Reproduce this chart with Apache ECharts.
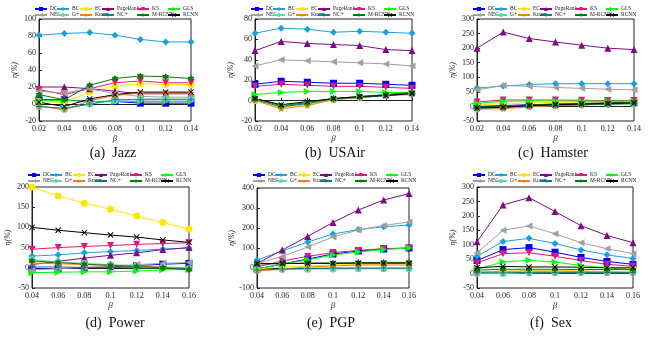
<!DOCTYPE html>
<html>
<head>
<meta charset="utf-8">
<script src="https://cdn.jsdelivr.net/npm/echarts@6/dist/echarts.min.js"></script>
<style>
  html, body { margin: 0; padding: 0; background: #fff; }
  #chart { width: 651px; height: 340px; }
</style>
</head>
<body>
<div id="chart"></div>
<script>
// method names (legend order)
const methods = ['DC', 'BC', 'EC', 'PageRank', 'KS', 'GLS', 'NEC', 'G+', 'Kuam', 'NC+', 'M-RCNN', 'RCNN'];

// beta tick labels
const betaTop = ['0.02', '0.04', '0.06', '0.08', '0.1', '0.12', '0.14'];
const betaBottom = ['0.04', '0.06', '0.08', '0.1', '0.12', '0.14', '0.16'];

// values per method, same order as methods
const jazzValues = [
  [5, 5, 3, 3, 1, 1, 1],
  [81, 83, 84, 81, 76, 73, 73],
  [3, 2, 14, 21, 24, 23, 23],
  [20, 20, 18, 15, 12, 12, 12],
  [17, 11, 18, 25, 27, 25, 25],
  [4, 4, 3, 3, 3, 3, 3],
  [15, 13, 18, 12, 9, 8, 8],
  [-3, -6, 0, 4, 6, 6, 6],
  [-2, -7, 4, 10, 13, 13, 13],
  [-3, -5, 0, 5, 5, 5, 5],
  [11, 5, 22, 30, 33, 32, 30],
  [2, -3, 6, 11, 14, 14, 14]
];
const usairValues = [
  [16, 19, 18, 17, 17, 16, 15],
  [66, 71, 70, 67, 68, 67, 66],
  [0, -7, -4, 1, 3, 5, 7],
  [49, 58, 56, 55, 54, 50, 49],
  [14, 16, 15, 14, 14, 13, 12],
  [6, 8, 9, 9, 9, 8, 8],
  [34, 40, 39, 38, 37, 36, 34],
  [1, -6, -3, 1, 3, 5, 7],
  [0, -8, -5, 1, 3, 5, 7],
  [1, -6, -3, 2, 3, 5, 6],
  [2, -5, -2, 2, 4, 6, 8],
  [2, -4, -1, 2, 4, 5, 7]
];
const hamsterValues = [
  [0, 3, 6, 8, 10, 12, 14],
  [63, 70, 75, 78, 78, 78, 78],
  [5, 10, 12, 14, 15, 16, 18],
  [200, 255, 233, 221, 210, 200, 195],
  [15, 22, 22, 22, 21, 20, 20],
  [10, 18, 19, 19, 18, 18, 18],
  [57, 72, 69, 65, 62, 59, 57],
  [-8, -5, 0, 3, 5, 7, 8],
  [-10, -8, -2, 3, 5, 8, 10],
  [-5, -3, 2, 4, 6, 8, 10],
  [-3, 0, 5, 8, 10, 12, 14],
  [-5, -3, 3, 6, 8, 10, 12]
];
const powerValues = [
  [-3, -2, 0, 3, 5, 9, 11],
  [29, 32, 37, 40, 43, 46, 49],
  [200, 178, 160, 145, 128, 112, 96],
  [8, 16, 24, 31, 37, 45, 50],
  [46, 50, 53, 55, 58, 60, 62],
  [-12, -11, -10, -10, -8, -5, -4],
  [-5, -2, 1, 4, 8, 11, 13],
  [20, 15, 11, 8, 5, 2, -2],
  [12, 10, 8, 6, 4, 2, 0],
  [2, 2, 1, 1, 0, -1, -2],
  [17, 13, 9, 6, 3, 0, -5],
  [100, 93, 87, 81, 76, 69, 63]
];
const pgpValues = [
  [-5, 20, 45, 70, 85, 95, 100],
  [40, 85, 130, 170, 192, 206, 215],
  [-5, 5, 10, 15, 18, 20, 22],
  [22, 90, 158, 228, 290, 340, 372],
  [5, 35, 58, 77, 88, 97, 100],
  [-5, 20, 40, 65, 80, 92, 100],
  [22, 58, 105, 155, 190, 213, 230],
  [-10, -8, -6, -5, -4, -4, -4],
  [-15, -5, 5, 10, 15, 15, 15],
  [-10, -5, -2, 0, 0, 0, 0],
  [20, 22, 25, 25, 27, 28, 28],
  [22, 22, 23, 23, 24, 24, 24]
];
const sexValues = [
  [45, 83, 90, 74, 56, 42, 32],
  [60, 111, 122, 104, 82, 65, 52],
  [5, 8, 10, 10, 12, 14, 20],
  [110, 238, 263, 215, 166, 132, 107],
  [37, 69, 72, 60, 45, 32, 25],
  [15, 40, 46, 40, 28, 20, 12],
  [72, 150, 165, 138, 107, 86, 69],
  [0, 0, 2, 3, 3, 3, 3],
  [5, 8, 8, 8, 7, 6, 5],
  [3, 3, 4, 4, 4, 4, 4],
  [12, 15, 15, 15, 14, 14, 14],
  [20, 25, 23, 23, 22, 20, 20]
];

const colors = ['#0000FF', '#1BA1E2', '#FFE600', '#7E0B80', '#E6177A', '#00FF00',
  '#A0A0A0', '#66D4B0', '#FF7F0E', '#0E7C7B', '#0B7A0B', '#000000'];

const star5 = 'path://M50,0L61.8,35.1H97.6L68.5,56.7L79.4,91.9L50,70.3L20.6,91.9L31.5,56.7L2.4,35.1H38.2Z';
const star6 = 'path://M50,0L64.4,25H93.3L78.9,50L93.3,75H64.4L50,100L35.6,75H6.7L21.1,50L6.7,25H35.6Z';
const plus = 'path://M42,0H58V42H100V58H58V100H42V58H0V42H42Z';
const cross = 'path://M12,0L50,38L88,0L100,12L62,50L100,88L88,100L50,62L12,100L0,88L38,50L0,12Z';
const symbols = ['rect', 'diamond', 'circle', 'triangle', 'triangle', 'triangle',
  'triangle', 'circle', star5, plus, star6, cross];
const rotates = [0, 0, 0, 0, 180, -90, 90, 0, 0, 0, 0, 0];

const panels = [
  { caption: '(a)  Jazz', cats: betaTop, values: jazzValues, min: -20, max: 100, interval: 20,
    left: 39, top: 19, width: 152, height: 102, capX: 113, capY: 153, legTop: 6 },
  { caption: '(b)  USAir', cats: betaTop, values: usairValues, min: -20, max: 80, interval: 20,
    left: 255, top: 19, width: 157, height: 102, capX: 335, capY: 153, legTop: 6 },
  { caption: '(c)  Hamster', cats: betaTop, values: hamsterValues, min: -50, max: 300, interval: 50,
    left: 477, top: 19, width: 157, height: 102, capX: 553, capY: 153, legTop: 6 },
  { caption: '(d)  Power', cats: betaBottom, values: powerValues, min: -50, max: 200, interval: 50,
    left: 32, top: 187, width: 157, height: 101, capX: 115, capY: 323, legTop: 172 },
  { caption: '(e)  PGP', cats: betaBottom, values: pgpValues, min: -100, max: 400, interval: 100,
    left: 257, top: 188, width: 152, height: 100, capX: 331, capY: 323, legTop: 172 },
  { caption: '(f)  Sex', cats: betaBottom, values: sexValues, min: -50, max: 300, interval: 50,
    left: 477, top: 187, width: 156, height: 101, capX: 551, capY: 323, legTop: 172 }
];

const colOffsets = [-5, 17, 40, 62, 97, 128];
const serif = 'Liberation Serif';

const grid = [], xAxis = [], yAxis = [], series = [], legend = [], graphic = [];
panels.forEach((p, i) => {
  grid.push({ left: p.left, top: p.top, width: p.width, height: p.height,
    show: true, borderColor: '#222', borderWidth: 1, containLabel: false });
  xAxis.push({
    type: 'category', gridIndex: i, data: p.cats, boundaryGap: false,
    name: 'β', nameLocation: 'middle', nameGap: 8,
    nameTextStyle: { fontFamily: serif, fontSize: 9, fontStyle: 'italic', color: '#222' },
    axisLine: { lineStyle: { color: '#222', width: 1 } },
    axisTick: { inside: true, length: 3, lineStyle: { color: '#222' } },
    axisLabel: { fontFamily: serif, fontSize: 8, color: '#222', margin: 4 },
    splitLine: { show: false }
  });
  yAxis.push({
    type: 'value', gridIndex: i, min: p.min, max: p.max, interval: p.interval,
    name: 'η(%)', nameLocation: 'middle', nameGap: 20,
    nameTextStyle: { fontFamily: serif, fontSize: 8, fontStyle: 'italic', color: '#222' },
    axisLine: { show: true, lineStyle: { color: '#222', width: 1 } },
    axisTick: { show: true, inside: true, length: 3, lineStyle: { color: '#222' } },
    axisLabel: { fontFamily: serif, fontSize: 8, color: '#222', margin: 3 },
    splitLine: { show: false }
  });
  methods.forEach((m, k) => {
    series.push({
      name: m, type: 'line', xAxisIndex: i, yAxisIndex: i,
      data: p.values[k],
      symbol: symbols[k], symbolRotate: rotates[k],
      symbolSize: k === 9 || k === 11 ? 6 : 7,
      color: colors[k],
      lineStyle: { width: 1, color: colors[k] },
      itemStyle: { color: colors[k] },
      animation: false
    });
  });
  colOffsets.forEach((off, c) => {
    legend.push({
      data: [methods[c], methods[c + 6]],
      orient: 'vertical', left: p.left + off, top: p.legTop,
      itemGap: 0, itemWidth: 12, itemHeight: 5, padding: 0,
      textStyle: { fontFamily: serif, fontSize: 5.5, color: '#222', padding: [0, 0, 0, -2] }
    });
  });
  graphic.push({
    type: 'text', x: p.capX, y: p.capY,
    style: { text: p.caption, font: '14px "Liberation Serif"', fill: '#111',
      textAlign: 'center', textVerticalAlign: 'middle' }
  });
});

const chart = echarts.init(document.getElementById('chart'), null, { renderer: 'canvas' });
chart.setOption({
  animation: false,
  grid, xAxis, yAxis, series, legend, graphic
});
</script>
</body>
</html>
